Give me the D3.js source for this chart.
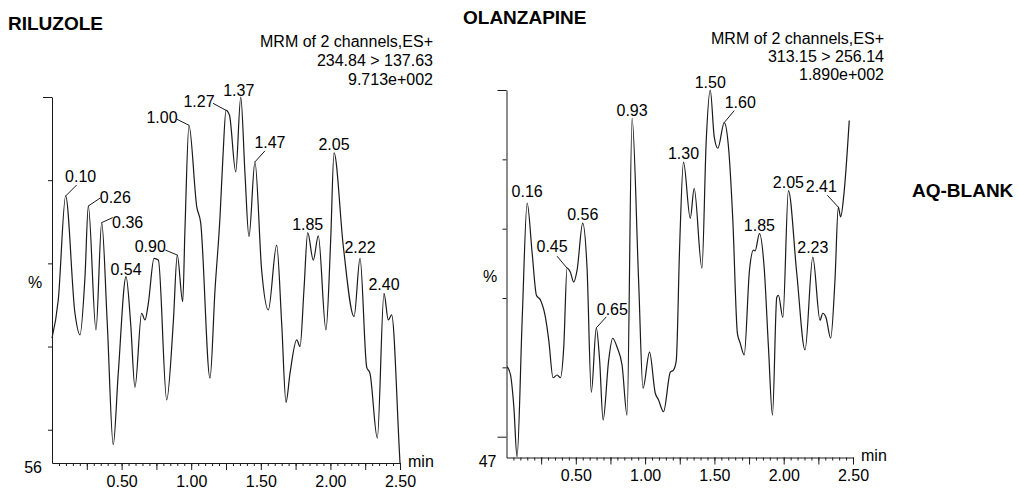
<!DOCTYPE html>
<html>
<head>
<meta charset="utf-8">
<script src="https://cdn.jsdelivr.net/npm/d3@7"></script>
<style>
  body { margin: 0; background: #fff; }
  svg { display: block; font-family: "Liberation Sans", Arial, Helvetica, sans-serif; }
</style>
</head>
<body>
<div id="chart"></div>
<script>
// RILUZOLE trace: retention time (min) and relative intensity (%)
const rilTime = [0.00, 0.045, 0.098, 0.165, 0.201, 0.237, 0.261, 0.316, 0.357, 0.397,
  0.440, 0.476, 0.532, 0.565, 0.596, 0.644, 0.668, 0.692, 0.733, 0.764,
  0.824, 0.871, 0.900, 0.939, 0.955, 0.984, 1.040, 1.068, 1.135, 1.171,
  1.207, 1.228, 1.250, 1.275, 1.320, 1.356, 1.386, 1.415, 1.458, 1.506,
  1.554, 1.614, 1.650, 1.681, 1.710, 1.758, 1.782, 1.810, 1.837, 1.877,
  1.913, 1.968, 2.002, 2.026, 2.093, 2.170, 2.213, 2.261, 2.284, 2.337,
  2.385, 2.416, 2.440, 2.495, 2.500];
const rilPct = [71.0, 75.6, 88.1, 74.0, 71.4, 78.4, 86.9, 72.0, 84.9, 72.8,
  58.2, 66.8, 78.4, 72.8, 65.1, 74.0, 73.2, 75.2, 80.6, 80.4,
  63.6, 72.8, 81.0, 75.4, 84.0, 96.6, 86.8, 84.9, 66.2, 76.8,
  85.6, 92.8, 98.4, 97.8, 91.0, 100.0, 90.9, 83.2, 92.2, 79.2,
  74.4, 82.2, 72.8, 63.3, 66.8, 70.8, 70.0, 76.8, 83.7, 80.4,
  83.3, 72.0, 82.8, 93.3, 82.0, 73.6, 80.6, 67.5, 66.8, 59.0,
  76.4, 73.2, 73.8, 57.6, 56.0];
const rilPeakIdx = [2, 6, 8, 12, 22, 25, 32, 35, 38, 48, 53, 56, 60];
const rilPeakLabels = ["0.10", "0.26", "0.36", "0.54", "0.90", "1.00", "1.27", "1.37", "1.47", "1.85", "2.05", "2.22", "2.40"];
const rilHeader = ["MRM of 2 channels,ES+", "234.84 > 137.63", "9.713e+002"];

// OLANZAPINE trace
const olzTime = [0.005, 0.029, 0.053, 0.076, 0.113, 0.149, 0.185, 0.216, 0.245, 0.281,
  0.305, 0.336, 0.365, 0.389, 0.413, 0.437, 0.461, 0.485, 0.509, 0.550,
  0.581, 0.612, 0.648, 0.672, 0.697, 0.737, 0.766, 0.798, 0.834, 0.870,
  0.906, 0.953, 0.985, 1.032, 1.073, 1.097, 1.133, 1.182, 1.205, 1.225,
  1.249, 1.277, 1.326, 1.354, 1.410, 1.441, 1.470, 1.499, 1.525, 1.571,
  1.602, 1.633, 1.666, 1.686, 1.715, 1.753, 1.782, 1.794, 1.825, 1.859,
  1.890, 1.919, 1.950, 1.962, 1.994, 2.034, 2.094, 2.154, 2.210, 2.262,
  2.282, 2.305, 2.339, 2.370, 2.394, 2.411, 2.435, 2.473];
const olzPct = [60.1, 58.9, 54.3, 47.1, 66.8, 83.7, 76.5, 70.4, 69.7, 67.2,
  63.9, 58.5, 58.9, 58.5, 62.9, 74.3, 73.7, 72.3, 74.0, 80.8,
  74.4, 56.4, 65.7, 61.0, 52.4, 61.0, 64.2, 62.9, 60.3, 53.1,
  95.9, 72.6, 57.0, 62.2, 56.3, 55.3, 53.6, 59.3, 59.6, 61.0,
  77.3, 89.6, 81.5, 85.8, 74.3, 92.7, 100.0, 93.2, 91.6, 95.3,
  91.7, 81.2, 64.9, 63.5, 61.8, 74.0, 76.9, 76.8, 79.3, 74.4,
  62.9, 53.1, 70.1, 70.4, 67.2, 85.5, 73.6, 62.5, 75.9, 66.8,
  67.8, 67.2, 64.2, 72.6, 83.1, 81.7, 85.1, 95.6];
const olzPeakIdx = [5, 15, 19, 22, 30, 41, 46, 49, 58, 65, 68, 74];
const olzPeakLabels = ["0.16", "0.45", "0.56", "0.65", "0.93", "1.30", "1.50", "1.60", "1.85", "2.05", "2.23", "2.41"];
const olzHeader = ["MRM of 2 channels,ES+", "313.15 > 256.14", "1.890e+002"];

// axis ticks
const xTickValues = [0.5, 1.0, 1.5, 2.0, 2.5];
const xTickLabels = ["0.50", "1.00", "1.50", "2.00", "2.50"];
const rilYTicks = [100, 90, 80, 70, 60];
const olzYTicks = [100, 90, 80, 70, 60, 50];

const W = 1019, H = 489;
const font = 16;
const ink = "#1a1a1a";

const svg = d3.select("#chart").append("svg")
    .attr("width", W)
    .attr("height", H);

// label placement: [dx, dy, leaderX, leaderY] relative to the peak
const panels = [
  {
    title: "RILUZOLE", titleX: 8, titleY: 30,
    time: rilTime, pct: rilPct, peakIdx: rilPeakIdx, peakLabels: rilPeakLabels,
    header: rilHeader, headerX: 433, headerY: [47, 66, 85],
    x0: 52, x1: 400, yTop: 97, yBase: 463, yMin: 56, yTicks: rilYTicks,
    pctX: 28, pctY: 288,
    place: [[15, -14, 11, -11], [27, -3, 12, -8], [26, 5, 11, -5], [0, -2],
            [-27, -3, -12, -5], [-27, -2, -12, -6], [-27, -3, -13, -7], [-2, -1],
            [15, -14, 10, -11], [0, -3], [0, -3], [0, -5], [0, -3]]
  },
  {
    title: "OLANZAPINE", titleX: 463, titleY: 24,
    time: olzTime, pct: olzPct, peakIdx: olzPeakIdx, peakLabels: olzPeakLabels,
    header: olzHeader, headerX: 884, headerY: [44, 62, 80],
    x0: 506.5, x1: 853, yTop: 90, yBase: 457.5, yMin: 47, yTicks: olzYTicks,
    pctX: 483, pctY: 282,
    place: [[0, -6], [-15, -16, -10, -12], [0, -3], [16, -13, 10, -11], [0, -2],
            [0, -3], [0, -2], [16, -15, 10, -12], [0, -3], [0, -3], [0, -4],
            [-17, -15, -11, -12]]
  }
];

panels.forEach(p => {
  const x = d3.scaleLinear().domain([0, 2.5]).range([p.x0, p.x1]);
  const y = d3.scaleLinear().domain([p.yMin, 100]).range([p.yBase, p.yTop]);

  const g = svg.append("g");

  // title
  g.append("text")
      .attr("x", p.titleX).attr("y", p.titleY)
      .attr("font-size", 19).attr("font-weight", "bold")
      .attr("fill", "#000")
      .text(p.title);

  // header block, right aligned
  g.selectAll(".hdr")
      .data(p.header)
      .enter()
      .append("text")
      .attr("x", p.headerX)
      .attr("y", (d, i) => p.headerY[i])
      .attr("text-anchor", "end")
      .attr("font-size", font)
      .attr("fill", "#000")
      .text(d => d);

  // x axis: minor, major and labelled ticks
  const minor = d3.range(1, 51).map(i => i * 0.05);
  const major = d3.range(1, 11).map(i => i * 0.25);

  g.append("g")
      .attr("transform", `translate(0,${p.yBase})`)
      .call(d3.axisBottom(x).tickValues(minor).tickSize(3).tickSizeOuter(0).tickFormat(""));
  g.append("g")
      .attr("transform", `translate(0,${p.yBase})`)
      .call(d3.axisBottom(x).tickValues(major).tickSize(7).tickSizeOuter(0).tickFormat(""))
      .select(".domain").remove();
  const xLab = g.append("g")
      .attr("transform", `translate(0,${p.yBase})`)
      .call(d3.axisBottom(x).tickValues(xTickValues).tickSize(0).tickPadding(12.5)
        .tickFormat((d, i) => xTickLabels[i]));
  xLab.select(".domain").remove();
  xLab.selectAll("text").attr("font-size", font).attr("fill", "#000")
      .attr("font-family", "Liberation Sans, Arial, sans-serif");

  // y axis: major ticks at 100 / 50, short minor ticks otherwise
  g.append("g")
      .attr("transform", `translate(${p.x0},0)`)
      .call(d3.axisLeft(y).tickValues(p.yTicks.filter(v => v % 50 !== 0)).tickSize(4).tickSizeOuter(0).tickFormat(""));
  g.append("g")
      .attr("transform", `translate(${p.x0},0)`)
      .call(d3.axisLeft(y).tickValues(p.yTicks.filter(v => v % 50 === 0)).tickSize(9).tickSizeOuter(0).tickFormat(""))
      .select(".domain").remove();

  g.selectAll(".domain, .tick line").attr("stroke", ink).attr("stroke-width", 1);

  // axis extras: min, baseline value, %
  g.append("text")
      .attr("x", p.x1 + 8).attr("y", p.yBase + 3.5)
      .attr("font-size", font).attr("fill", "#000")
      .text("min");
  g.append("text")
      .attr("x", p.x0 - 10).attr("y", p.yBase + 9.5)
      .attr("text-anchor", "end")
      .attr("font-size", font).attr("fill", "#000")
      .text(p.yMin);
  g.append("text")
      .attr("x", p.pctX).attr("y", p.pctY)
      .attr("font-size", font).attr("fill", "#000")
      .text("%");

  // trace
  const pts = p.time.map((t, i) => [t, p.pct[i]]);
  const line = d3.line()
      .x(d => x(d[0]))
      .y(d => y(d[1]))
      .curve(d3.curveMonotoneX);
  g.append("path")
      .datum(pts)
      .attr("d", line)
      .attr("fill", "none")
      .attr("stroke", ink)
      .attr("stroke-width", 1.2)
      .attr("stroke-linejoin", "round");

  // peak labels
  p.peakIdx.forEach((k, j) => {
    const px = x(p.time[k]), py = y(p.pct[k]);
    const pl = p.place[j];
    if (pl.length > 2) {
      g.append("line")
          .attr("x1", px).attr("y1", py)
          .attr("x2", px + pl[2]).attr("y2", py + pl[3])
          .attr("stroke", ink).attr("stroke-width", 1);
    }
    g.append("text")
        .attr("x", px + pl[0]).attr("y", py + pl[1])
        .attr("text-anchor", "middle")
        .attr("font-size", font).attr("fill", "#000")
        .text(p.peakLabels[j]);
  });
});

svg.append("text")
    .attr("x", 912).attr("y", 197)
    .attr("font-size", 19).attr("font-weight", "bold")
    .attr("fill", "#000")
    .text("AQ-BLANK");
</script>
</body>
</html>
